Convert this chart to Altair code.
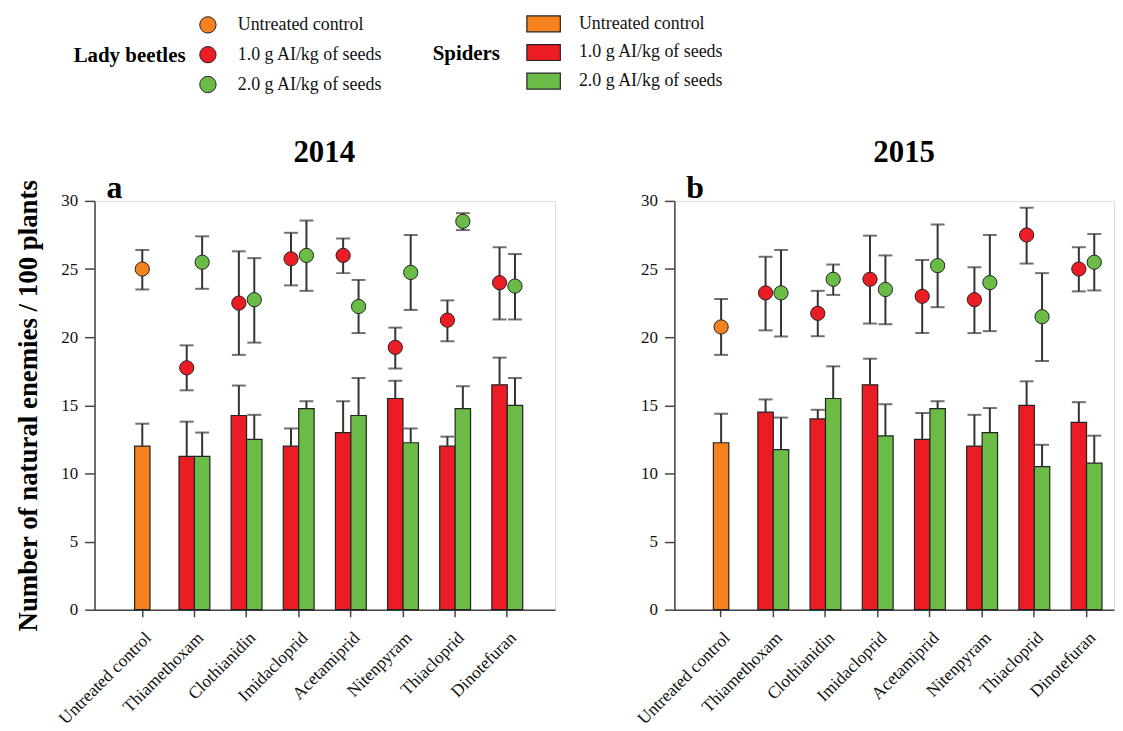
import altair as alt
import pandas as pd

insecticides = ["Untreated control", "Thiamethoxam", "Clothianidin", "Imidacloprid",
                "Acetamiprid", "Nitenpyram", "Thiacloprid", "Dinotefuran"]
treated = insecticides[1:]
T0 = "Untreated control"
T1 = "1.0 g AI/kg of seeds"
T2 = "2.0 g AI/kg of seeds"
treatments = [T0, T1, T2]
colors = ["#F5821F", "#EC1C24", "#6BBC46"]

# ---- 2014 ----
sp14_ctrl, sp14_ctrl_hi = 12.0, 13.65
sp14_d1 = [11.25, 14.25, 12.0, 13.0, 15.5, 12.0, 16.5]
sp14_d1_hi = [13.8, 16.45, 13.3, 15.3, 16.8, 12.7, 18.5]
sp14_d2 = [11.25, 12.5, 14.75, 14.25, 12.25, 14.75, 15.0]
sp14_d2_hi = [13.0, 14.3, 15.3, 17.0, 13.3, 16.4, 17.0]

lb14_ctrl, lb14_ctrl_lo, lb14_ctrl_hi = 25.0, 23.5, 26.4
lb14_d1 = [17.75, 22.5, 25.75, 26.0, 19.25, 21.25, 24.0]
lb14_d1_lo = [16.1, 18.7, 23.8, 24.7, 17.7, 19.7, 21.3]
lb14_d1_hi = [19.4, 26.3, 27.66, 27.25, 20.7, 22.7, 26.6]
lb14_d2 = [25.5, 22.75, 26.0, 22.25, 24.75, 28.5, 23.75]
lb14_d2_lo = [23.55, 19.6, 23.4, 20.3, 22.0, 27.86, 21.3]
lb14_d2_hi = [27.4, 25.8, 28.56, 24.2, 27.5, 29.1, 26.1]

# ---- 2015 ----
sp15_ctrl, sp15_ctrl_hi = 12.25, 14.38
sp15_d1 = [14.5, 14.0, 16.5, 12.5, 12.0, 15.0, 13.75]
sp15_d1_hi = [15.43, 14.67, 18.42, 14.43, 14.3, 16.76, 15.23]
sp15_d2 = [11.75, 15.5, 12.75, 14.75, 13.0, 10.5, 10.75]
sp15_d2_hi = [14.1, 17.86, 15.08, 15.3, 14.8, 12.1, 12.77]

lb15_ctrl, lb15_ctrl_lo, lb15_ctrl_hi = 20.75, 18.7, 22.8
lb15_d1 = [23.25, 21.75, 24.25, 23.0, 22.75, 27.5, 25.0]
lb15_d1_lo = [20.5, 20.07, 21.0, 20.3, 20.3, 25.4, 23.36]
lb15_d1_hi = [25.9, 23.4, 27.45, 25.67, 25.13, 29.5, 26.6]
lb15_d2 = [23.25, 24.25, 23.5, 25.25, 24.0, 21.5, 25.5]
lb15_d2_lo = [20.05, 23.1, 20.95, 22.2, 20.44, 18.25, 23.43]
lb15_d2_hi = [26.4, 25.33, 26.0, 28.27, 27.5, 24.7, 27.57]

rows = []


def add(year, group, treatment, cats, vals, los, his):
    for c, v, lo, hi in zip(cats, vals, los, his):
        rows.append(dict(year=year, group=group, treatment=treatment, dose=treatment,
                         insecticide=c, value=v, lo=lo, hi=hi))


add(2014, "Spiders", T0, [T0], [sp14_ctrl], [sp14_ctrl], [sp14_ctrl_hi])
add(2014, "Spiders", T1, treated, sp14_d1, sp14_d1, sp14_d1_hi)
add(2014, "Spiders", T2, treated, sp14_d2, sp14_d2, sp14_d2_hi)
add(2014, "Lady", T0, [T0], [lb14_ctrl], [lb14_ctrl_lo], [lb14_ctrl_hi])
add(2014, "Lady", T1, treated, lb14_d1, lb14_d1_lo, lb14_d1_hi)
add(2014, "Lady", T2, treated, lb14_d2, lb14_d2_lo, lb14_d2_hi)
add(2015, "Spiders", T0, [T0], [sp15_ctrl], [sp15_ctrl], [sp15_ctrl_hi])
add(2015, "Spiders", T1, treated, sp15_d1, sp15_d1, sp15_d1_hi)
add(2015, "Spiders", T2, treated, sp15_d2, sp15_d2, sp15_d2_hi)
add(2015, "Lady", T0, [T0], [lb15_ctrl], [lb15_ctrl_lo], [lb15_ctrl_hi])
add(2015, "Lady", T1, treated, lb15_d1, lb15_d1_lo, lb15_d1_hi)
add(2015, "Lady", T2, treated, lb15_d2, lb15_d2_lo, lb15_d2_hi)
df = pd.DataFrame(rows)

FONT = "Liberation Serif"
INK = "#333333"

spider_legend = alt.Legend(
    title="Spiders", orient="none", legendX=340, legendY=-187, direction="vertical",
    titleOrient="left", titleFont=FONT, titleFontSize=21, titleFontWeight="bold",
    titleColor="black", titlePadding=34.5, labelFont=FONT, labelFontSize=18,
    labelColor="#111", labelOffset=26.5, rowPadding=6.8,
    symbolType="M-2.1,-1H2.1V1H-2.1Z", symbolSize=256,
    symbolStrokeColor="#222", symbolStrokeWidth=1.2)

lady_legend = alt.Legend(
    title="Lady beetles", orient="none", legendX=-21, legendY=-186, direction="vertical",
    titleOrient="left", titleFont=FONT, titleFontSize=21, titleFontWeight="bold",
    titleColor="black", titlePadding=13, labelFont=FONT, labelFontSize=18,
    labelColor="#111", labelOffset=21, rowPadding=8,
    symbolType="circle", symbolSize=270,
    symbolStrokeColor="#222", symbolStrokeWidth=1)


def panel(year, letter, width, po, align, show_ytitle):
    d = df[df.year == year]
    base = alt.Chart(d)
    xaxis = alt.Axis(title=None, labelAngle=-45, labelAlign="right", labelBaseline="top",
                     labelFont=FONT, labelFontSize=17.5, labelColor="#111", labelPadding=12,
                     tickSize=7, labelOverlap=False, domainColor="#444", tickColor="#444",
                     domainWidth=1.5, tickWidth=1.5)
    xs = alt.X("insecticide:N", sort=insecticides,
               scale=alt.Scale(domain=insecticides, paddingInner=0, paddingOuter=po, align=align),
               axis=xaxis)
    yaxis = alt.Axis(title="Number of natural enemies / 100 plants" if show_ytitle else None,
                     values=[0, 5, 10, 15, 20, 25, 30], grid=False, labelFont=FONT,
                     labelFontSize=17, labelColor="#111", tickSize=10, labelPadding=7,
                     domainColor="#444", tickColor="#444", domainWidth=1.5, tickWidth=1.5,
                     titleFont=FONT, titleFontSize=27, titleFontWeight="bold",
                     titleColor="black", titlePadding=18)

    def Y(f):
        return alt.Y(f, type="quantitative", scale=alt.Scale(domain=[0, 30], nice=False),
                     axis=yaxis)

    off = alt.XOffset("treatment:N",
                      scale=alt.Scale(domain=[T1, T2], paddingInner=0, paddingOuter=0.69))
    color = alt.Color("treatment:N", scale=alt.Scale(domain=treatments, range=colors),
                      legend=spider_legend)
    fill = alt.Fill("dose:N", sort=treatments, scale=alt.Scale(range=colors),
                    legend=lady_legend)

    sp = base.transform_filter(alt.datum.group == "Spiders")
    sp0 = sp.transform_filter(alt.datum.treatment == T0)
    spt = sp.transform_filter(alt.datum.treatment != T0)
    lb = base.transform_filter(alt.datum.group == "Lady")
    lb0 = lb.transform_filter(alt.datum.treatment == T0)
    lbt = lb.transform_filter(alt.datum.treatment != T0)

    labels = alt.Chart(alt.Data(values=[{"t": letter, "yr": str(year)}]))

    layers = [
        sp0.mark_bar(width=15.5, stroke="#222", strokeWidth=1.2).encode(x=xs, y=Y("value"), color=color),
        spt.mark_bar(stroke="#222", strokeWidth=1.2).encode(x=xs, xOffset=off, y=Y("value"), color=color),
        sp0.mark_rule(color=INK, strokeWidth=2).encode(x=xs, y=Y("value"), y2="hi:Q"),
        spt.mark_rule(color=INK, strokeWidth=2).encode(x=xs, xOffset=off, y=Y("value"), y2="hi:Q"),
        sp0.mark_tick(color=INK, thickness=2, size=14).encode(x=xs, y=Y("hi")),
        spt.mark_tick(color=INK, thickness=2, size=14).encode(x=xs, xOffset=off, y=Y("hi")),
        lb0.mark_rule(color=INK, strokeWidth=2).encode(x=xs, y=Y("lo"), y2="hi:Q"),
        lbt.mark_rule(color=INK, strokeWidth=2).encode(x=xs, xOffset=off, y=Y("lo"), y2="hi:Q"),
        lb0.mark_tick(color=INK, thickness=2, size=14).encode(x=xs, y=Y("hi")),
        lbt.mark_tick(color=INK, thickness=2, size=14).encode(x=xs, xOffset=off, y=Y("hi")),
        lb0.mark_tick(color=INK, thickness=2, size=14).encode(x=xs, y=Y("lo")),
        lbt.mark_tick(color=INK, thickness=2, size=14).encode(x=xs, xOffset=off, y=Y("lo")),
        lb0.mark_circle(size=205, opacity=1, stroke="#222", strokeWidth=1).encode(x=xs, y=Y("value"), fill=fill),
        lbt.mark_circle(size=205, opacity=1, stroke="#222", strokeWidth=1).encode(x=xs, xOffset=off, y=Y("value"), fill=fill),
        labels.mark_text(font=FONT, fontSize=32, fontWeight="bold", color="black", align="left",
                         baseline="alphabetic").encode(text="t:N", x=alt.value(12), y=alt.value(-3)),
        labels.mark_text(font=FONT, fontSize=31, fontWeight="bold", color="black", align="center",
                         baseline="alphabetic").encode(text="yr:N", x=alt.value(231),
                                                       y=alt.value(-39)),
    ]
    return alt.layer(*layers).properties(width=width, height=411)


pa = panel(2014, "a", 463, 0.416, 0.5, True)
pb = panel(2015, "b", 442, 0.21, 0.94, False)

chart = alt.hconcat(pa, pb, spacing=120, bounds="flush").properties(
    padding={"left": 6, "top": 5, "right": 0, "bottom": 0}
).configure_view(stroke=None).configure(background="white")

chart.save("out.html", embed_options={"renderer": "svg", "actions": False})
